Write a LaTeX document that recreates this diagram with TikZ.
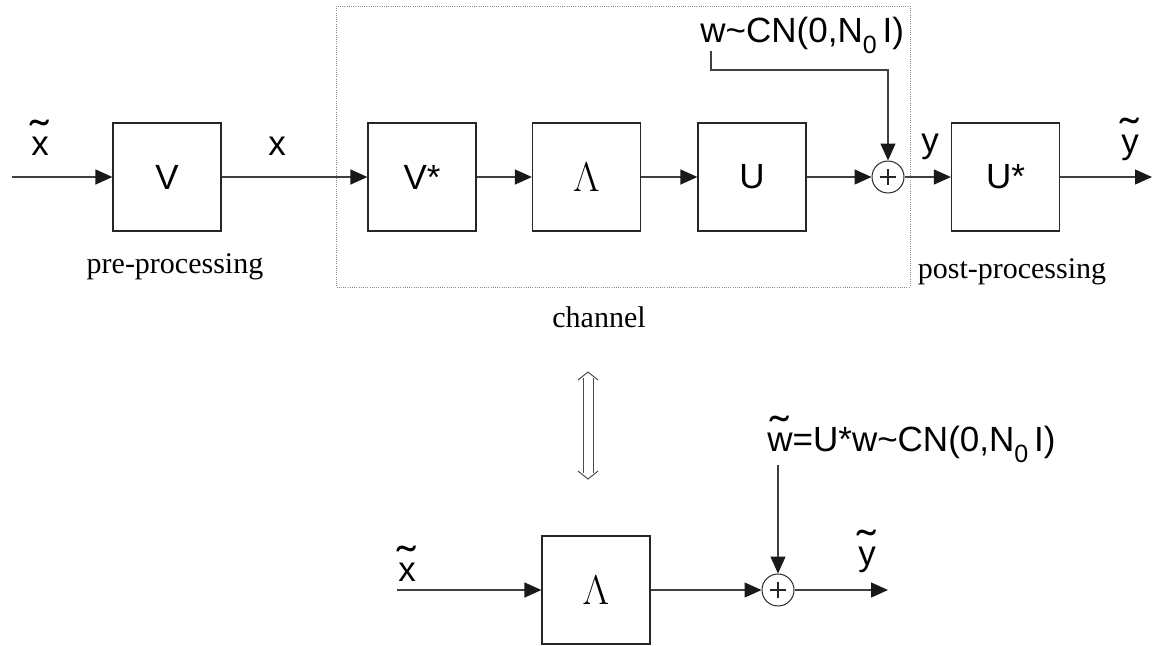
\documentclass[tikz,border=0pt]{standalone}
\usepackage{fontspec}
\usepackage{graphicx}
\setmainfont{Liberation Serif}
\newfontfamily\lsans{Liberation Sans}
\usetikzlibrary{arrows.meta}
\newcommand{\tld}[1]{{\setbox0\hbox{#1}\rlap{\hbox to\wd0{\hss\raisebox{0.1em}{\scalebox{1.6}[1.25]{\char"02DC}}\hss}}\box0}}
\newcommand{\sbz}{\raisebox{-0.32em}{\fontsize{12.5}{14}\selectfont 0}}
\tikzset{
  lab/.style={font=\lsans\fontsize{17.5}{20}\selectfont, inner sep=0pt, anchor=base},
  captext/.style={font=\fontsize{15}{18}\selectfont, inner sep=0pt, anchor=base},
  blk/.style={draw=black!85, line width=0.6pt, minimum width=54pt, minimum height=54pt, inner sep=0pt, font=\lsans\fontsize{17.5}{20}\selectfont},
  lamb/.style={blk, font=\fontsize{21}{24}\selectfont},
  sum/.style={draw=black!85, line width=0.5pt, circle, minimum size=16pt, inner sep=0pt,
    path picture={\draw[line width=1.3pt] ([xshift=-4pt]path picture bounding box.center) -- ([xshift=4pt]path picture bounding box.center);
                  \draw[line width=1.3pt] ([yshift=-4pt]path picture bounding box.center) -- ([yshift=4pt]path picture bounding box.center);}},
  wire/.style={draw=black!75, line width=0.6pt},
  arr/.style={wire, -{Triangle[length=8.5pt,width=7.5pt,color=black!90]}, shorten >=0pt},
  chan/.style={draw=black!45, line width=0.4pt, dash pattern=on 0.5pt off 0.6pt}
}
\begin{document}
\begin{tikzpicture}[x=0.5pt,y=-0.5pt]
\useasboundingbox (0,0) rectangle (1157,645);
% channel frame
\draw[chan] (336,6) rectangle (910,287);
% top row
\coordinate (in) at (12,177);
\node[blk] (V) at (167,177) {V};
\node[blk] (Vs) at (422,177) {V*};
\node[lamb] (L) at (586.5,177) {$\Lambda$};
\node[blk] (U) at (752,177) {U};
\node[sum] (S) at (888,177) {};
\node[blk] (Us) at (1005.5,177) {U*};
\coordinate (out) at (1152,177);
\draw[arr] (in) -- (V);
\draw[arr] (V) -- (Vs);
\draw[arr] (Vs) -- (L);
\draw[arr] (L) -- (U);
\draw[arr] (U) -- (S);
\draw[arr] (S) -- (Us);
\draw[arr] (Us) -- (out);
% noise top
\node[lab, anchor=base west] (w) at (700,42) {w\textasciitilde CN(0,N\sbz\,I)};
\coordinate (w0) at (711,51);
\draw[arr] (w0) -- (711,70) -| (S);
% labels top
\node[lab] (lx) at (40,155) {\tld{x}};
\node[lab] (lx2) at (277,155) {x};
\node[lab] (ly) at (930,152) {y};
\node[lab] (ly2) at (1130,153) {\tld{y}};
\node[captext] (pre) at (175,273) {pre-processing};
\node[captext] (post) at (1012,278) {post-processing};
\node[captext] (ch) at (599,327) {channel};
% double arrow
\draw[black!70, line width=0.5pt] (583,378) -- (583,473) (593,378) -- (593,473);
\draw[black!70, line width=0.5pt] (578,380) -- (588,372) -- (598,380);
\draw[black!70, line width=0.5pt] (578,471) -- (588,479) -- (598,471);
% bottom row
\coordinate (bin) at (397,590);
\node[lamb] (BL) at (596,590) {$\Lambda$};
\node[sum] (BS) at (778,590) {};
\coordinate (bout) at (888,590);
\draw[arr] (bin) -- (BL);
\draw[arr] (BL) -- (BS);
\draw[arr] (BS) -- (bout);
\node[lab, anchor=base west] (bw) at (767,451) {\tld{w}=U*w\textasciitilde CN(0,N\sbz\,I)};
\coordinate (bw0) at (778,465);
\draw[arr] (bw0) -- (BS);
\node[lab] (bx) at (407,581) {\tld{x}};
\node[lab] (by) at (867,565) {\tld{y}};
\end{tikzpicture}
\end{document}
